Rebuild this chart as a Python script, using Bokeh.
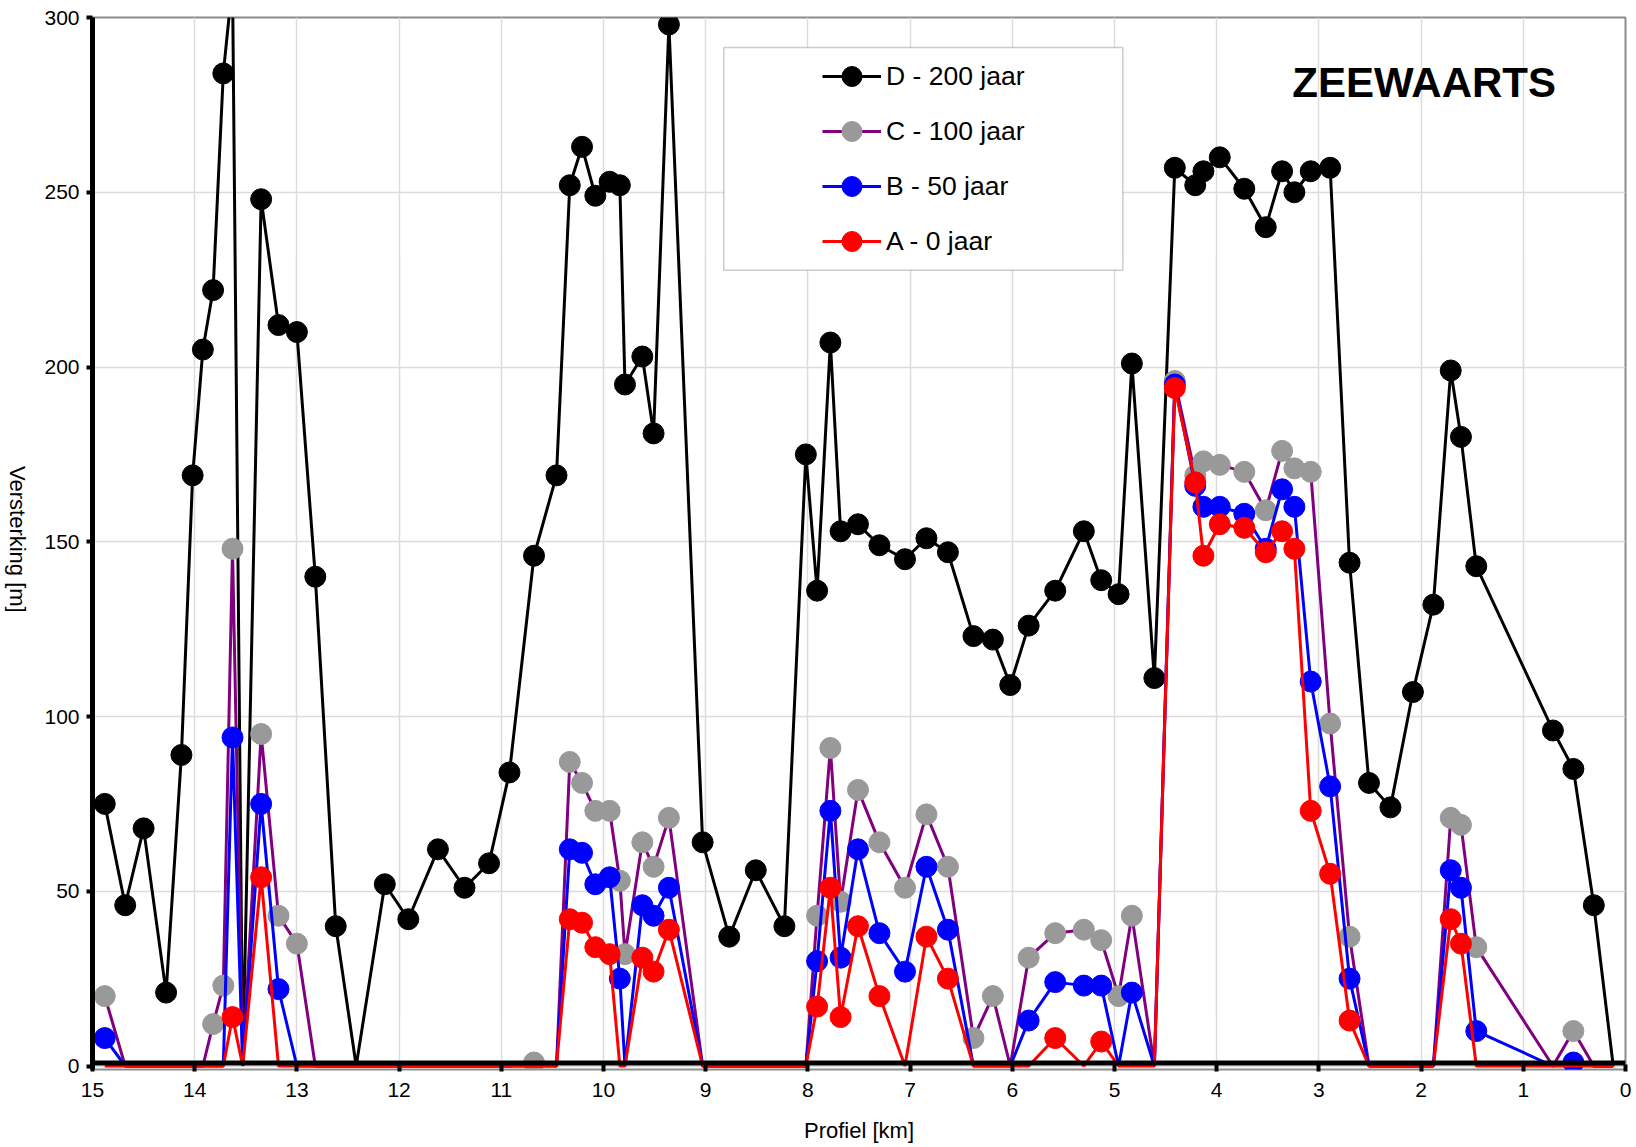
import math
from bokeh.plotting import figure
from bokeh.layouts import row
from bokeh.core.properties import value
from bokeh.models import (Range1d, Legend, LegendItem, Label, BoxAnnotation,
                          Span, FixedTicker)
from bokeh.embed import file_html
from bokeh.resources import INLINE

# ---- data ----
profiel_km = [14.88, 14.68, 14.50, 14.28, 14.13, 14.02, 13.92, 13.82, 13.72, 13.63,
              13.53, 13.35, 13.18, 13.00, 12.82, 12.62, 12.42, 12.14, 11.91, 11.62,
              11.36, 11.12, 10.92, 10.68, 10.46, 10.33, 10.21, 10.08, 9.94, 9.84,
              9.79, 9.62, 9.51, 9.36, 9.03, 8.77, 8.51, 8.23, 8.02, 7.91,
              7.78, 7.68, 7.51, 7.30, 7.05, 6.84, 6.63, 6.38, 6.19, 6.02,
              5.84, 5.58, 5.30, 5.13, 4.96, 4.83, 4.61, 4.41, 4.21, 4.13,
              3.97, 3.73, 3.52, 3.36, 3.24, 3.08, 2.89, 2.70, 2.51, 2.30,
              2.08, 1.88, 1.71, 1.61, 1.46, 0.71, 0.51, 0.31, 0.12]

d_200_jaar = [75, 46, 68, 21, 89, 169, 205, 222, 284, 310,
              0, 248, 212, 210, 140, 40, 0, 52, 42, 62,
              51, 58, 84, 146, 169, 252, 263, 249, 253, 252,
              195, 203, 181, 298, 64, 37, 56, 40, 175, 136,
              207, 153, 155, 149, 145, 151, 147, 123, 122, 109,
              126, 136, 153, 139, 135, 201, 111, 257, 252, 256,
              260, 251, 240, 256, 250, 256, 257, 144, 81, 74,
              107, 132, 199, 180, 143, 96, 85, 46, 0]

c_100_jaar = [20, 0, 0, 0, 0, 0, 0, 12, 23, 148,
              0, 95, 43, 35, 0, 0, 0, 0, 0, 0,
              0, 0, 0, 1, 0, 87, 81, 73, 73, 53,
              32, 64, 57, 71, 0, 0, 0, 0, 0, 43,
              91, 47, 79, 64, 51, 72, 57, 8, 20, 0,
              31, 38, 39, 36, 20, 43, 0, 196, 169, 173,
              172, 170, 159, 176, 171, 170, 98, 37, 0, 0,
              0, 0, 71, 69, 34, 0, 10, 0, 0]

b_50_jaar = [8, 0, 0, 0, 0, 0, 0, 0, 0, 94,
             0, 75, 22, 0, 0, 0, 0, 0, 0, 0,
             0, 0, 0, 0, 0, 62, 61, 52, 54, 25,
             0, 46, 43, 51, 0, 0, 0, 0, 0, 30,
             73, 31, 62, 38, 27, 57, 39, 0, 0, 0,
             13, 24, 23, 23, 0, 21, 0, 195, 166, 160,
             160, 158, 148, 165, 160, 110, 80, 25, 0, 0,
             0, 0, 56, 51, 10, 0, 1, 0, 0]

a_0_jaar = [0, 0, 0, 0, 0, 0, 0, 0, 0, 14,
            0, 54, 0, 0, 0, 0, 0, 0, 0, 0,
            0, 0, 0, 0, 0, 42, 41, 34, 32, 0,
            0, 31, 27, 39, 0, 0, 0, 0, 0, 17,
            51, 14, 40, 20, 0, 37, 25, 0, 0, 0,
            0, 8, 0, 7, 0, 0, 0, 194, 167, 146,
            155, 154, 147, 153, 148, 73, 55, 13, 0, 0,
            0, 0, 42, 35, 0, 0, 0, 0, 0]

series_labels = ["D - 200 jaar", "C - 100 jaar", "B - 50 jaar", "A - 0 jaar"]
x_ticks = list(range(0, 16))
y_ticks = [0, 50, 100, 150, 200, 250, 300]
y_title = "Versterking [m]"
x_title = "Profiel [km]"

FONT = "Liberation Sans"
LAB_W = 34  # width of the strip holding the rotated y-axis title

# ---- narrow strip with the y-axis title (reads top to bottom) ----
p_lab = figure(width=LAB_W, height=1147, output_backend="svg", toolbar_location=None,
               x_range=Range1d(0, LAB_W), y_range=Range1d(0, 1147), min_border=0)
p_lab.axis.visible = False
p_lab.grid.visible = False
p_lab.outline_line_color = None
p_lab.background_fill_color = "white"
p_lab.border_fill_color = "white"
p_lab.text(x=[17], y=[578], text=[y_title], angle=-math.pi / 2,
           text_align="center", text_baseline="middle", text_font=value(FONT),
           text_font_size="22px", text_color="black")

# ---- main chart ----
p = figure(width=1636 - LAB_W, height=1147, output_backend="svg", toolbar_location=None,
           x_range=Range1d(15, 0), y_range=Range1d(-1.0, 300),
           min_border_left=92 - LAB_W, min_border_right=11, min_border_top=17,
           min_border_bottom=78)
p.background_fill_color = "white"
p.border_fill_color = "white"
p.outline_line_color = "#8c8c8c"
p.outline_line_width = 2

# grid
p.xgrid.ticker = FixedTicker(ticks=x_ticks)
p.ygrid.ticker = FixedTicker(ticks=y_ticks)
for g in (p.xgrid, p.ygrid):
    g.grid_line_color = "#dcdcdc"
    g.grid_line_width = 1.5

# axes
p.xaxis.ticker = FixedTicker(ticks=x_ticks)
p.yaxis.ticker = FixedTicker(ticks=y_ticks)
p.xaxis.axis_line_color = None
p.xaxis.major_tick_in = 5
p.xaxis.major_tick_out = 2
p.xaxis.major_tick_line_width = 4
p.xaxis.minor_tick_line_color = None
p.xaxis.major_label_standoff = 11
p.xaxis.axis_label = x_title
p.xaxis.axis_label_text_font = FONT
p.xaxis.axis_label_text_font_size = "22px"
p.xaxis.axis_label_text_font_style = "normal"
p.xaxis.axis_label_text_color = "black"
p.xaxis.axis_label_standoff = 18

p.yaxis.axis_line_width = 5
p.yaxis.major_tick_in = 0
p.yaxis.major_tick_out = 6
p.yaxis.major_tick_line_width = 4
p.yaxis.minor_tick_line_color = None
p.yaxis.major_label_standoff = 7

for ax in (p.xaxis, p.yaxis):
    ax.major_label_text_font = FONT
    ax.major_label_text_font_size = "21px"
    ax.major_label_text_color = "black"
    ax.major_tick_line_color = "black"

# series: D, C, B, A
styles = [("black", "black"), ("#800080", "#999999"), ("#0000ff", "#0000ff"), ("#ff0000", "#ff0000")]
series = [d_200_jaar, c_100_jaar, b_50_jaar, a_0_jaar]
items = []
for label, vals, (lc, mc) in zip(series_labels, series, styles):
    lr = p.line(profiel_km, vals, line_color=lc, line_width=3)
    xs = [x for x, v in zip(profiel_km, vals) if v != 0]
    ys = [v for v in vals if v != 0]
    sr = p.scatter(xs, ys, size=21, fill_color=mc, line_color=mc, line_width=1)
    items.append(LegendItem(label=label, renderers=[lr, sr]))

# thick x-axis line, drawn just above the zero level
p.add_layout(Span(location=0.86, dimension="width", line_color="black", line_width=5, level="overlay"))

# legend box
box = BoxAnnotation(left=8.823, right=4.919, top=291.4, bottom=227.7,
                    fill_color="white", fill_alpha=1.0,
                    line_color="#555555", line_width=1.5)
p.add_layout(box)

legend = Legend(items=items, location=(730, 803), padding=10, margin=0,
                spacing=5, glyph_width=59, glyph_height=50, label_height=30,
                label_standoff=5, border_line_color=None, background_fill_alpha=0.0,
                label_text_font=FONT, label_text_font_size="26.5px", label_text_color="black")
p.add_layout(legend)

# title
p.add_layout(Label(x=1.97, y=281.4, text="ZEEWAARTS", text_align="center",
                   text_baseline="alphabetic", text_font=FONT, text_font_size="42px",
                   text_font_style="bold", text_color="black"))

layout = row(p_lab, p)
open("out.html", "w").write(file_html(layout, INLINE))
